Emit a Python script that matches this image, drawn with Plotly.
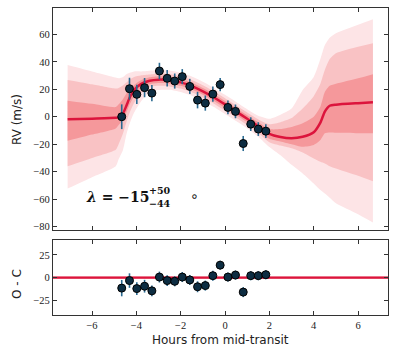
import plotly.graph_objects as go

# ---------------- data ----------------
T_OBS = [-4.66, -4.31, -3.98, -3.63, -3.30, -2.96, -2.61, -2.27, -1.93, -1.59,
         -1.24, -0.89, -0.55, -0.22, 0.13, 0.47, 0.82, 1.16, 1.50, 1.84]
RV_OBS = [0.0, 20.4, 16.3, 21.2, 17.2, 33.3, 28.0, 26.0, 29.2, 22.1,
          12.1, 9.9, 16.5, 23.4, 6.8, 3.9, -19.5, -5.4, -9.0, -10.5]
RV_ERR = [9.0, 8.0, 7.0, 7.0, 6.0, 6.0, 6.0, 5.5, 5.5, 5.5,
          6.0, 5.5, 5.5, 4.8, 5.0, 5.0, 5.5, 5.0, 5.0, 5.0]
OC = [-11.5, -3.2, -12.0, -9.4, -14.5, 0.7, -3.2, -4.0, 0.7, -2.5,
      -10.0, -8.7, 2.2, 13.8, 0.7, 2.9, -15.9, 2.2, 2.2, 3.3]

T_MODEL = [-7.1, -6.0, -4.93, -4.8, -4.6, -4.45, -4.3, -4.1, -3.8, -3.4,
           -3.0, -2.5, -2.0, -1.5, -1.0, -0.5, 0.0, 0.5, 1.0, 1.5,
           2.0, 2.5, 3.0, 3.5, 4.0, 4.3, 4.5, 4.72, 5.0, 6.0, 6.67]
RV_MED = [-1.9, -1.4, -0.8, -0.4, 2.5, 8.0, 14.0, 19.5, 23.8, 26.2,
          27.0, 26.6, 25.0, 22.3, 18.5, 14.0, 9.0, 3.8, -1.5, -6.8,
          -12.5, -14.8, -15.7, -14.6, -11.3, -4.3, 3.7, 8.0, 8.8, 9.9, 10.5]
I_HI = [11.7, 9.4, 7.0, 9.0, 13.0, 17.0, 20.0, 23.0, 26.5, 28.7,
        29.5, 29.1, 27.5, 24.8, 21.0, 16.5, 11.5, 6.3, 1.0, -4.0,
        -9.0, -9.0, -7.5, -4.8, 0.0, 7.3, 18.0, 22.5, 24.0, 28.0, 31.0]
I_LO = [-17.5, -13.0, -8.5, -6.0, -2.0, 3.0, 9.0, 15.0, 21.0, 23.7,
        24.5, 24.1, 22.5, 19.8, 16.0, 11.5, 6.5, 1.3, -4.0, -9.6,
        -16.0, -18.0, -20.0, -21.9, -20.6, -17.0, -12.1, -11.5, -11.7, -12.0, -12.1]
M_HI = [26.8, 23.6, 20.5, 21.0, 23.0, 25.0, 27.0, 29.0, 30.0, 30.7,
        31.5, 31.1, 29.5, 26.8, 23.0, 18.5, 13.5, 8.3, 3.0, -2.0,
        -5.5, -4.0, -1.0, 6.0, 15.0, 24.0, 34.0, 42.0, 46.3, 51.0, 53.6]
M_LO = [-36.0, -30.0, -24.0, -20.0, -12.0, -4.0, 3.0, 10.0, 17.0, 21.7,
        22.5, 22.1, 20.5, 17.8, 14.0, 9.5, 4.5, -0.7, -6.0, -11.8,
        -18.5, -21.0, -23.0, -26.0, -30.4, -32.8, -34.0, -36.0, -37.7, -43.0, -47.0]
O_HI = [37.7, 33.0, 28.5, 28.0, 29.0, 31.0, 32.0, 33.0, 33.0, 33.5,
        34.0, 33.6, 32.0, 29.3, 25.5, 21.0, 16.0, 10.8, 5.5, 0.7,
        -1.5, 1.5, 6.0, 19.5, 29.0, 42.0, 52.0, 57.5, 60.8, 67.0, 71.0]
O_LO = [-52.3, -44.0, -36.0, -31.0, -24.0, -13.0, -5.0, 3.0, 11.0, 18.0,
        19.5, 19.6, 18.0, 15.3, 11.5, 7.0, 2.0, -3.2, -8.5, -14.5,
        -22.0, -28.0, -35.0, -41.3, -48.6, -53.4, -56.0, -59.0, -63.0, -71.0, -77.0]

X_TICKS = [-6, -4, -2, 0, 2, 4, 6]
Y_TICKS = [-80, -60, -40, -20, 0, 20, 40, 60]
OC_TICKS = [-25, 0, 25]

# ---------------- style ----------------
C_OUT, C_MID, C_IN = "#fde4e6", "#f9c2c4", "#f5989b"
C_LINE = "#dc143c"
C_PT, C_ERR = "#0d2d42", "#2a6a91"
FRAME = "#333333"
TICKFONT = dict(family="Liberation Serif", size=10.5, color="#222222")

fig = go.Figure()

def band(lo, hi, color):
    fig.add_trace(go.Scatter(x=T_MODEL, y=lo, mode="lines",
                             line=dict(width=0, shape="spline", smoothing=0.6),
                             hoverinfo="skip", showlegend=False, xaxis="x", yaxis="y"))
    fig.add_trace(go.Scatter(x=T_MODEL, y=hi, mode="lines", fill="tonexty", fillcolor=color,
                             line=dict(width=0, shape="spline", smoothing=0.6),
                             hoverinfo="skip", showlegend=False, xaxis="x", yaxis="y"))

band(O_LO, O_HI, C_OUT)
band(M_LO, M_HI, C_MID)
band(I_LO, I_HI, C_IN)

fig.add_trace(go.Scatter(x=T_MODEL, y=RV_MED, mode="lines",
                         line=dict(color=C_LINE, width=2.5, shape="spline", smoothing=0.6),
                         showlegend=False, xaxis="x", yaxis="y"))

marker = dict(size=8, color=C_PT, line=dict(color="black", width=1))
fig.add_trace(go.Scatter(x=T_OBS, y=RV_OBS, mode="markers", marker=marker,
                         error_y=dict(type="data", array=RV_ERR, color=C_ERR, thickness=1.6, width=0),
                         showlegend=False, xaxis="x", yaxis="y"))
fig.add_trace(go.Scatter(x=T_OBS, y=OC, mode="markers", marker=marker,
                         error_y=dict(type="data", array=RV_ERR, color=C_ERR, thickness=1.6, width=0),
                         showlegend=False, xaxis="x2", yaxis="y2"))

# zero line in residual panel
fig.add_shape(type="rect", xref="x2 domain", yref="y2", x0=0, x1=1, y0=-1.5, y1=1.5,
              fillcolor="#f8c8cb", line=dict(width=0), layer="below")
fig.add_shape(type="line", xref="x2 domain", yref="y2", x0=0, x1=1, y0=0, y1=0,
              line=dict(color=C_LINE, width=2.2), layer="below")

axis_common = dict(showline=True, linecolor=FRAME, linewidth=1.2, mirror="ticks",
                   ticks="inside", ticklen=4, tickwidth=1, tickcolor=FRAME,
                   showgrid=False, zeroline=False, tickfont=TICKFONT)

XR = [-7.76, 7.35]
fig.update_layout(
    width=397, height=357,
    margin=dict(l=53, r=9, t=8, b=42),
    paper_bgcolor="white", plot_bgcolor="white",
    xaxis=dict(domain=[0, 1], range=XR, anchor="y", tickvals=X_TICKS,
               showticklabels=False, **axis_common),
    yaxis=dict(domain=[0.2769, 1], range=[-82.5, 79.2], anchor="x", tickvals=Y_TICKS,
               **axis_common),
    xaxis2=dict(domain=[0, 1], range=XR, anchor="y2", tickvals=X_TICKS,
                matches="x", **axis_common),
    yaxis2=dict(domain=[0, 0.2443], range=[-41.1, 41.5], anchor="x2", tickvals=OC_TICKS,
                **axis_common),
    showlegend=False,
)

LABFONT = dict(family="DejaVu Sans", size=12, color="#222222")
fig.add_annotation(text="RV (m/s)", xref="paper", yref="paper", x=0, y=0.635,
                   xshift=-36, textangle=-90, showarrow=False, font=LABFONT,
                   xanchor="center", yanchor="middle")
fig.add_annotation(text="O - C", xref="paper", yref="paper", x=0, y=0.101,
                   xshift=-36, textangle=-90, showarrow=False, font=LABFONT,
                   xanchor="center", yanchor="middle")
fig.add_annotation(text="Hours from mid-transit", xref="paper", yref="paper", x=0.5, y=0,
                   yshift=-25, showarrow=False, font=LABFONT,
                   xanchor="center", yanchor="middle")

# lambda annotation
MF = "DejaVu Serif"
fig.add_annotation(text="<b><i>λ</i> = −15</b>", xref="x", yref="y", x=-3.36, y=-58.5,
                   xanchor="right", yanchor="middle", showarrow=False, borderpad=0,
                   font=dict(family=MF, size=14, color="#111111"))
fig.add_annotation(text="<b>+50</b>", xref="x", yref="y", x=-3.46, y=-53.9,
                   xanchor="left", yanchor="middle", showarrow=False, borderpad=0,
                   font=dict(family=MF, size=9.5, color="#111111"))
fig.add_annotation(text="<b>−44</b>", xref="x", yref="y", x=-3.46, y=-63.2,
                   xanchor="left", yanchor="middle", showarrow=False, borderpad=0,
                   font=dict(family=MF, size=9.5, color="#111111"))
fig.add_annotation(text="∘", xref="x", yref="y", x=-1.37, y=-58.0,
                   xanchor="center", yanchor="middle", showarrow=False,
                   font=dict(family="DejaVu Sans", size=14, color="#111111"))

fig.write_html("out.html", config={"displayModeBar": False},
               post_script="document.body.style.margin='0';")
